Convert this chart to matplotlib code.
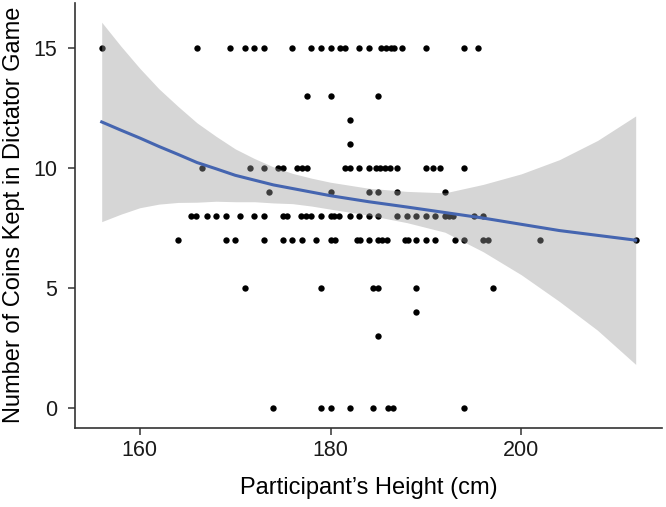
import numpy as np
import matplotlib.pyplot as plt

# Heights (cm) of participants, grouped by number of coins kept
heights_15 = [156, 166, 169.5, 171, 172, 173, 176, 178, 179, 180, 181, 181.5,
              183, 184, 185.3, 185.8, 186.3, 186.7, 187.5, 190, 194, 195.5]
heights_13 = [177.5, 180, 185]
heights_12 = [182]
heights_11 = [182]
heights_10 = [166.5, 171.5, 173, 174.5, 175, 176.5, 177, 177.5, 181.5, 182, 183,
              184, 184.8, 185.2, 185.7, 186.2, 187, 190, 190.7, 191.5, 194]
heights_9 = [173.5, 180, 184, 185, 187, 192]
heights_8 = [165.4, 165.9, 167, 168, 169, 170.5, 172, 173, 175, 175.4, 176.9,
             177.4, 177.9, 179, 180, 180.4, 180.9, 182, 183, 184, 185, 187, 188,
             189, 190, 191, 192, 192.4, 192.8, 195, 196]
heights_7 = [164, 169, 170, 173, 175, 176, 177, 178.5, 180, 180.5, 182.8, 183.1,
             184, 185, 185.4, 185.9, 187.8, 188.1, 189, 190, 191, 193, 194, 196,
             196.5, 202, 212]
heights_5 = [171, 179, 184.5, 185, 189, 197]
heights_4 = [189]
heights_3 = [185]
heights_0 = [174, 179, 180, 182, 184.5, 186, 186.5, 194]

# smoothed trend and its confidence band
smooth_height = [156, 158, 160, 162, 164, 166, 168, 170, 172, 174, 176, 178,
                 180, 184, 188, 192, 196, 200, 204, 208, 212]
smooth_fit = [11.92, 11.58, 11.25, 10.90, 10.57, 10.23, 9.97, 9.70, 9.50, 9.30,
              9.15, 9.00, 8.85, 8.60, 8.38, 8.15, 7.92, 7.66, 7.40, 7.20, 7.00]
band_low = [7.77, 8.08, 8.35, 8.50, 8.57, 8.58, 8.62, 8.60, 8.60, 8.55, 8.52,
            8.42, 8.29, 8.04, 7.73, 7.33, 6.52, 5.56, 4.45, 3.25, 1.83]
band_high = [16.07, 15.08, 14.15, 13.30, 12.57, 11.88, 11.32, 10.80, 10.40,
             10.05, 9.78, 9.58, 9.41, 9.16, 9.03, 8.97, 9.32, 9.76, 10.35,
             11.15, 12.17]

groups = [(15, heights_15), (13, heights_13), (12, heights_12), (11, heights_11),
          (10, heights_10), (9, heights_9), (8, heights_8), (7, heights_7),
          (5, heights_5), (4, heights_4), (3, heights_3), (0, heights_0)]

x = np.concatenate([np.array(h, float) for _, h in groups])
y = np.concatenate([np.full(len(h), c, float) for c, h in groups])

plt.rcParams['font.family'] = ['Liberation Sans', 'DejaVu Sans']

fig = plt.figure(figsize=(6.66, 5.07), dpi=100)
ax = fig.add_axes([75 / 666, 1 - 427.7 / 507, 587.4 / 666, 424.8 / 507])

ax.scatter(x, y, s=21, color='black', linewidths=0, zorder=2)
ax.fill_between(smooth_height, band_low, band_high, color='#999999', alpha=0.4,
                linewidth=0, zorder=3)
ax.plot(smooth_height, smooth_fit, color='#4565B0', linewidth=2.2, zorder=4)

# ggplot-style 5% expansion around data and band
xr = x.max() - x.min()
ax.set_xlim(x.min() - 0.05 * xr, x.max() + 0.05 * xr)
ymin = min(y.min(), min(band_low))
ymax = max(y.max(), max(band_high))
yr = ymax - ymin
ax.set_ylim(ymin - 0.05 * yr, ymax + 0.05 * yr)

ax.set_xticks([160, 180, 200])
ax.set_yticks([0, 5, 10, 15])

for s in ['top', 'right']:
    ax.spines[s].set_visible(False)
for s in ['left', 'bottom']:
    ax.spines[s].set_color('#333333')
    ax.spines[s].set_linewidth(1.2)
ax.tick_params(colors='#333333', labelcolor='#1a1a1a', labelsize=15.5,
               length=5, width=1.1)
ax.tick_params(axis='y', pad=8)

ax.set_xlabel("Participant\u2019s Height (cm)", fontsize=17, labelpad=12)
ax.set_ylabel("Number of Coins Kept in Dictator Game", fontsize=17, labelpad=6)

fig.savefig('out.png', dpi=100)
